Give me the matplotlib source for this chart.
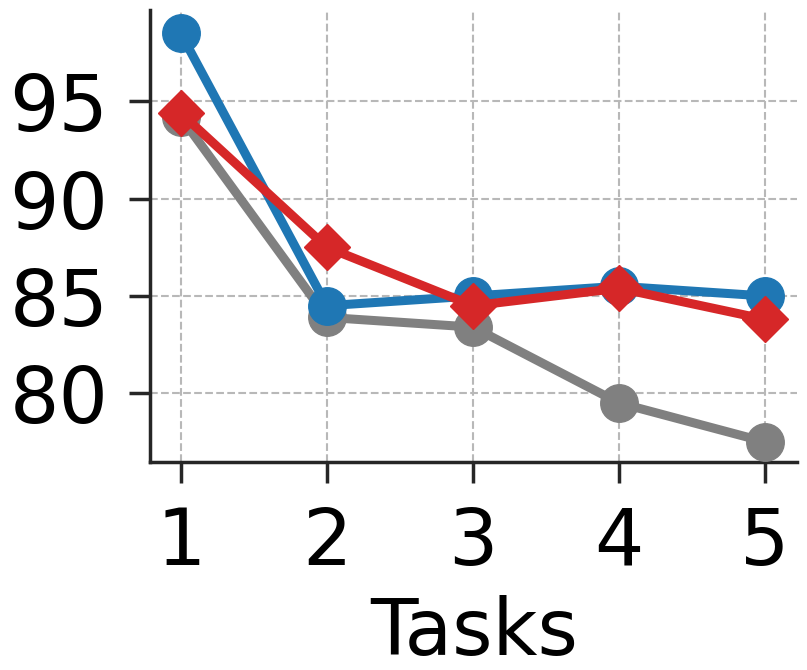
import matplotlib
matplotlib.use("Agg")
import matplotlib.pyplot as plt

tasks = [1, 2, 3, 4, 5]
blue_vals = [98.5, 84.5, 85.0, 85.5, 85.0]
gray_vals = [94.2, 83.9, 83.4, 79.5, 77.5]
red_vals = [94.4, 87.5, 84.5, 85.4, 83.8]
yticks = [80, 85, 90, 95]

fig = plt.figure(figsize=(8.07, 6.7), dpi=100)
ax = fig.add_axes([0.186, 0.31, 0.802, 0.675])

ax.plot(tasks, gray_vals, color='#808080', marker='o', lw=6.5, ms=27, zorder=3)
ax.plot(tasks, blue_vals, color='#1f77b4', marker='o', lw=6.5, ms=27, zorder=4)
ax.plot(tasks, red_vals, color='#d62728', marker='D', lw=6.5, ms=23, zorder=5)

ax.set_xlim(0.79, 5.22)
ax.set_ylim(76.45, 99.7)
ax.set_xticks(tasks)
ax.set_yticks(yticks)
ax.grid(True, ls='--', color='#b8b8b8', lw=1.5)
ax.set_axisbelow(True)
for s in ['top', 'right']:
    ax.spines[s].set_visible(False)
for s in ['left', 'bottom']:
    ax.spines[s].set_linewidth(2.5)
    ax.spines[s].set_color('#262626')
ax.tick_params(labelsize=56, width=2.5, length=15, color='#262626')
ax.tick_params(axis='y', pad=15)
ax.tick_params(axis='x', pad=16)
ax.set_xlabel('Tasks', fontsize=56, labelpad=10)

fig.savefig('out.png', dpi=100)
